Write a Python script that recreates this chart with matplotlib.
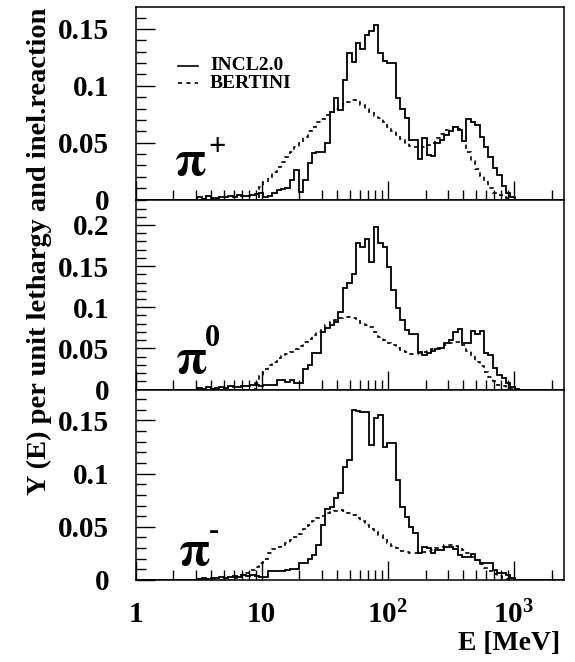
import numpy as np
import matplotlib
matplotlib.use('Agg')
from matplotlib import pyplot as plt
from matplotlib.ticker import MultipleLocator, LogLocator, FixedLocator, FuncFormatter

plt.rcParams['font.family'] = 'Liberation Serif'
plt.rcParams['font.weight'] = 'bold'
plt.rcParams['mathtext.fontset'] = 'custom'
plt.rcParams['mathtext.rm'] = 'Liberation Serif:bold'
plt.rcParams['mathtext.bf'] = 'Liberation Serif:bold'
plt.rcParams['mathtext.it'] = 'Liberation Serif:italic:bold'
plt.rcParams['mathtext.default'] = 'bf'

# histogram binning: equal width in log10(E)
LOG_W = 0.035
N_BINS = 97
edges = 10 ** (LOG_W * np.arange(N_BINS + 1))

# pi+ (values from first bin index onward)
incl_pip_start = 14
incl_pip = [0.002, 0.0005, 0.003, 0.001, 0.001, 0.002, 0.002, 0.003, 0.002, 0.004,
            0.003, 0.003, 0.004, 0.005, 0.006, 0.002, 0.003, 0.006, 0.008, 0.009,
            0.010, 0.017, 0.026, 0.007, 0.017, 0.032, 0.041, 0.042, 0.042, 0.050,
            0.077, 0.089, 0.079, 0.105, 0.129, 0.121, 0.138, 0.132, 0.145, 0.148,
            0.153, 0.129, 0.122, 0.120, 0.120, 0.089, 0.080, 0.0715, 0.0524, 0.0524,
            0.036, 0.054, 0.039, 0.038, 0.050, 0.052, 0.057, 0.060, 0.064, 0.061,
            0.051, 0.0707, 0.068, 0.0656, 0.055, 0.0465, 0.0377, 0.0275, 0.0216, 0.012,
            0.0055, 0.0025]
bert_pip_start = 28
bert_pip = [0.011, 0.015, 0.020, 0.024, 0.029, 0.033, 0.037, 0.042, 0.046, 0.050,
            0.055, 0.060, 0.064, 0.068, 0.071, 0.074, 0.077, 0.080, 0.082, 0.084,
            0.086, 0.0877, 0.086, 0.083, 0.080, 0.077, 0.073, 0.0715, 0.068, 0.064,
            0.060, 0.057, 0.053, 0.050, 0.047, 0.046, 0.045, 0.046, 0.048, 0.050,
            0.054, 0.058, 0.061, 0.062, 0.064, 0.062, 0.055, 0.042, 0.034, 0.027,
            0.021, 0.015, 0.010, 0.006, 0.004, 0.002, 0.001]

# pi0
incl_pi0_start = 14
incl_pi0 = [0.002, 0.001, 0.003, 0.001, 0.002, 0.003, 0.002, 0.004, 0.003, 0.003,
            0.004, 0.004, 0.005, 0.005, 0.004, 0.0055, 0.0055, 0.0055, 0.0115, 0.0115,
            0.0095, 0.0115, 0.008, 0.008, 0.0245, 0.030, 0.044, 0.044, 0.070, 0.0744,
            0.078, 0.0824, 0.0945, 0.123, 0.129, 0.141, 0.1776, 0.1735, 0.1825, 0.155,
            0.1978, 0.1776, 0.1735, 0.149, 0.121, 0.0987, 0.0845, 0.0723, 0.068, 0.068,
            0.046, 0.042, 0.044, 0.047, 0.049, 0.050, 0.056, 0.060, 0.070, 0.074,
            0.056, 0.056, 0.0715, 0.068, 0.0715, 0.044, 0.042, 0.026, 0.0176, 0.0136,
            0.0075, 0.0034, 0.001]
bert_pi0_start = 27
bert_pi0 = [0.008, 0.016, 0.025, 0.030, 0.034, 0.038, 0.041, 0.043, 0.045, 0.049,
            0.053, 0.058, 0.062, 0.066, 0.070, 0.075, 0.078, 0.082, 0.085, 0.087,
            0.088, 0.0885, 0.087, 0.084, 0.081, 0.079, 0.076, 0.070, 0.064, 0.060,
            0.057, 0.054, 0.051, 0.047, 0.045, 0.043, 0.043, 0.044, 0.045, 0.047,
            0.049, 0.051, 0.053, 0.054, 0.056, 0.058, 0.058, 0.054, 0.047, 0.040,
            0.034, 0.028, 0.021, 0.015, 0.010, 0.006, 0.004, 0.002, 0.001]

# pi-
incl_pim_start = 14
incl_pim = [0.001, 0.002, 0.001, 0.002, 0.002, 0.003, 0.002, 0.003, 0.004, 0.003,
            0.005, 0.004, 0.005, 0.004, 0.003, 0.003, 0.008, 0.008, 0.0088, 0.0088,
            0.0095, 0.010, 0.010, 0.0157, 0.0157, 0.020, 0.0235, 0.033, 0.052, 0.067,
            0.069, 0.077, 0.082, 0.106, 0.113, 0.160, 0.159, 0.158, 0.158, 0.127,
            0.152, 0.155, 0.125, 0.129, 0.129, 0.094, 0.069, 0.059, 0.050, 0.044,
            0.025, 0.031, 0.030, 0.025, 0.028, 0.028, 0.031, 0.031, 0.029, 0.0235,
            0.022, 0.022, 0.024, 0.019, 0.0157, 0.0157, 0.0157, 0.0094, 0.0063, 0.0063,
            0.005, 0.0016]
bert_pim_start = 22
bert_pim = [0.002, 0.003, 0.005, 0.007, 0.009, 0.012, 0.016, 0.020, 0.025, 0.029,
            0.031, 0.033, 0.035, 0.038, 0.040, 0.043, 0.048, 0.052, 0.055, 0.058,
            0.060, 0.063, 0.064, 0.065, 0.066, 0.065, 0.063, 0.061, 0.058, 0.055,
            0.052, 0.048, 0.045, 0.042, 0.039, 0.035, 0.032, 0.030, 0.027, 0.026,
            0.025, 0.025, 0.025, 0.026, 0.027, 0.028, 0.030, 0.031, 0.033, 0.033,
            0.032, 0.031, 0.028, 0.025, 0.022, 0.019, 0.015, 0.011, 0.008, 0.006,
            0.004, 0.002, 0.001]

panels = [
    ('+', incl_pip_start, incl_pip, bert_pip_start, bert_pip, 0.169, [0, 0.05, 0.1, 0.15]),
    ('0', incl_pi0_start, incl_pi0, bert_pi0_start, bert_pi0, 0.231, [0, 0.05, 0.1, 0.15, 0.2]),
    ('-', incl_pim_start, incl_pim, bert_pim_start, bert_pim, 0.179, [0, 0.05, 0.1, 0.15]),
]
x_ticks = [1, 10, 100, 1000]
x_labels = ['1', '10', r'$10^{2}$', r'$10^{3}$']

def full(start, vals):
    h = np.zeros(N_BINS)
    h[start:start + len(vals)] = vals
    return h

fig = plt.figure(figsize=(5.75, 6.62), dpi=100)
boxes = [(0.2357, 0.69864, 0.7452, 0.29033),
         (0.2357, 0.41163, 0.7452, 0.28701),
         (0.2357, 0.12387, 0.7452, 0.28776)]
pi_pos = [(0.127, 0.19, 0.19, 0.27), (0.130, 0.15, 0.18, 0.27), (0.137, 0.142, 0.183, 0.255)]

for k, (sup, s1, v1, s2, v2, ytop, yt) in enumerate(panels):
    ax = fig.add_axes(boxes[k])
    ax.stairs(full(s1, v1), edges, color='k', lw=1.3)
    ax.stairs(full(s2, v2), edges, color='k', lw=1.2, linestyle=(0, (2.5, 2.5)))
    ax.set_xscale('log')
    ax.set_xlim(1, 10 ** 3.4)
    ax.set_ylim(0, ytop)
    ax.yaxis.set_major_locator(FixedLocator(yt))
    ax.yaxis.set_minor_locator(MultipleLocator(0.01))
    ax.yaxis.set_major_formatter(FuncFormatter(lambda v, p: '%g' % v))
    ax.xaxis.set_major_locator(FixedLocator(x_ticks))
    ax.xaxis.set_minor_locator(LogLocator(base=10, subs=range(2, 10)))
    ax.tick_params(which='major', direction='in', length=14, width=1, top=False, right=False)
    ax.tick_params(which='minor', direction='in', length=7, width=1, top=False, right=False)
    ax.tick_params(axis='y', labelsize=21, pad=19)
    if k == 2:
        ax.set_xticklabels(x_labels)
        ax.tick_params(axis='x', which='major', labelsize=21, pad=15)
    else:
        ax.set_xticklabels([])
    ax.xaxis.set_minor_formatter(FuncFormatter(lambda v, p: ''))
    for sp in ax.spines.values():
        sp.set_linewidth(1.1)
    px, py, sx, sy = pi_pos[k]
    ax.text(px, py, r'$\pi$', transform=ax.transAxes, fontsize=36, ha='center', va='center',
            math_fontfamily='stix')
    ax.text(sx, sy, sup, transform=ax.transAxes, fontsize=22, ha='center', va='center')
    if k == 0:
        ax.plot([0.099, 0.146], [0.697, 0.697], transform=ax.transAxes, color='k', lw=1.2)
        ax.plot([0.099, 0.146], [0.606, 0.606], transform=ax.transAxes, color='k', lw=1.2,
                linestyle=(0, (2.5, 2.5)))
        ax.text(0.174, 0.697, 'INCL2.0', transform=ax.transAxes, fontsize=14, va='center')
        ax.text(0.174, 0.606, 'BERTINI', transform=ax.transAxes, fontsize=14, va='center')

fig.text(0.068, 0.621, 'Y (E) per unit lethargy and inel.reaction', rotation=90,
         ha='center', va='center', fontsize=20.5)
fig.text(0.974, 1 - 643 / 662, 'E [MeV]', ha='right', va='center', fontsize=20)

plt.savefig('out.png', dpi=100)
